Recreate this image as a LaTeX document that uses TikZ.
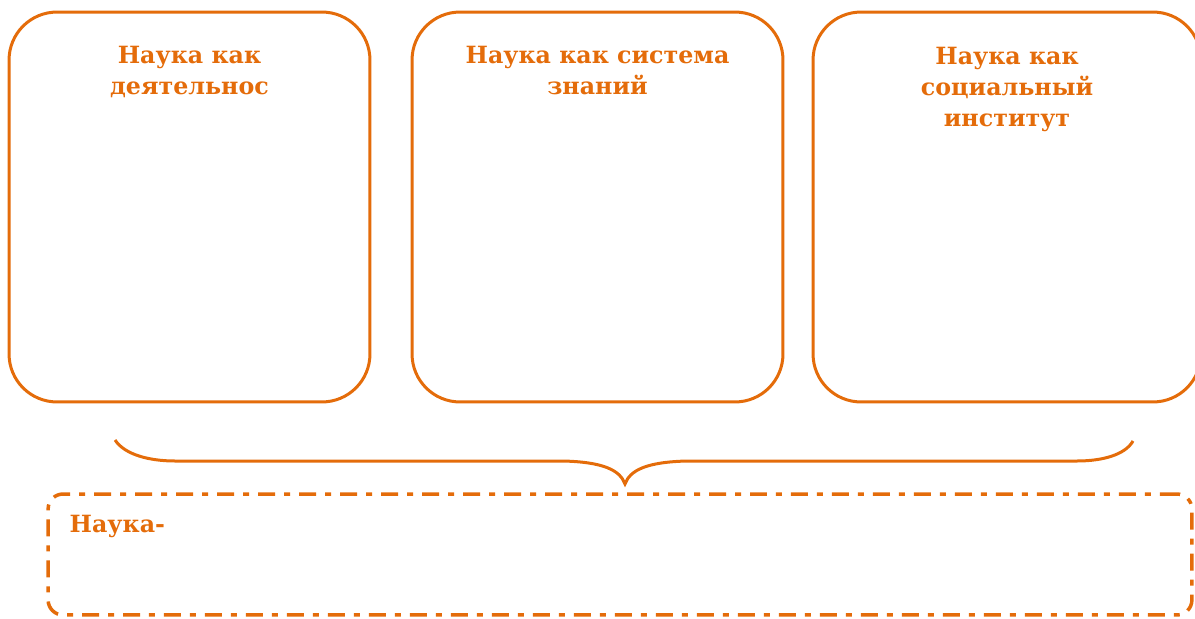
\documentclass[tikz,border=0pt]{standalone}
\usepackage{fontspec}
\setmainfont{DejaVu Serif}
\definecolor{sciorange}{RGB}{228,108,10}
\usetikzlibrary{positioning}

\begin{document}
\begin{tikzpicture}[x=0.02cm,y=-0.02cm,
  scibox/.style={draw=sciorange,line width=0.06cm,rounded corners=0.96cm,
    minimum height=7.8cm,inner sep=0pt},
  scititle/.style={text=sciorange,font=\bfseries\fontsize{13.5}{17.6}\selectfont,
    align=center,inner sep=0pt},
  scidef/.style={draw=sciorange,line width=0.07cm,rounded corners=0.3cm,
    dash pattern=on 0.34cm off 0.18cm on 0.12cm off 0.18cm,inner sep=0pt},
  scibrace/.style={draw=sciorange,line width=0.06cm}
]
  \useasboundingbox (0,0) rectangle (1195,618);

  \node[scibox,minimum width=7.22cm] (activity) at (189.5,207) {};
  \node[scibox,minimum width=7.42cm] (knowledge) at (597.5,207) {};
  \node[scibox,minimum width=7.76cm] (institute) at (1007,207) {};

  \node[scititle,below=0.7cm of activity.north] (activitytitle) {Наука как\\деятельнос};
  \node[scititle,below=0.7cm of knowledge.north] (knowledgetitle) {Наука как система\\знаний};
  \node[scititle,below=0.72cm of institute.north] (institutetitle) {Наука как\\социальный\\институт};

  \draw[scibrace] (115,440) .. controls (125,455) and (150,461) .. (175,461) -- (563,461)
    .. controls (603,462) and (620,470) .. (625,484)
    .. controls (630,470) and (647,462) .. (687,461) -- (1077,461)
    .. controls (1102,461) and (1125,455) .. (1133,441);

  \node[scidef,minimum width=22.88cm,minimum height=2.42cm] (definition) at (620,554.5) {};
  \node[scititle,below right=0.46cm and 0.46cm of definition.north west] (definitiontext) {Наука-};
\end{tikzpicture}
\end{document}
